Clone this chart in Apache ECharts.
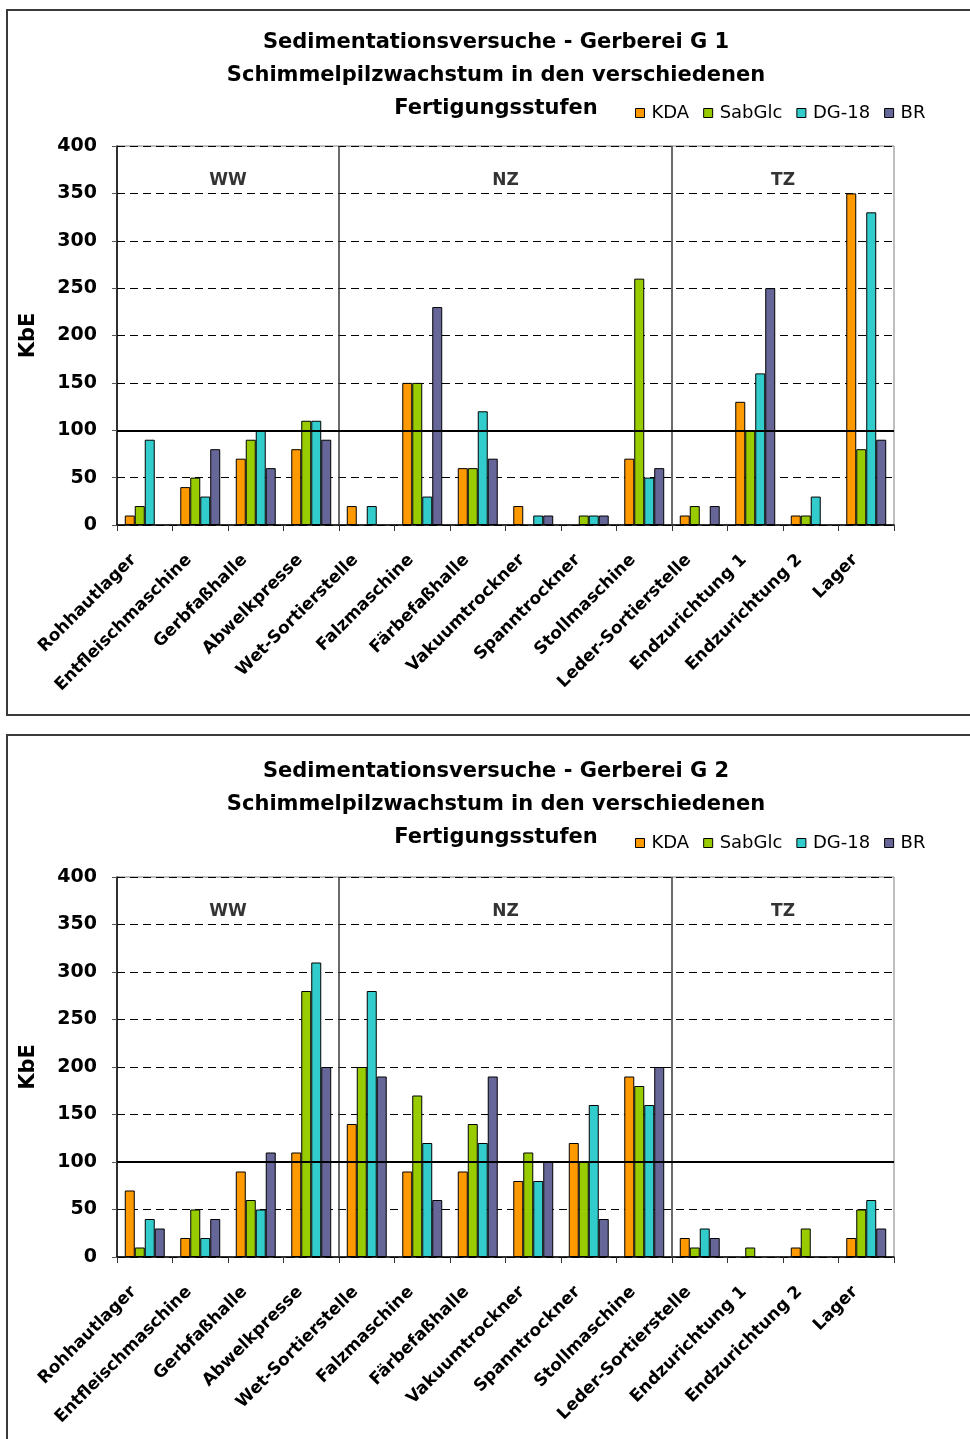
<!DOCTYPE html>
<html>
<head>
<meta charset="utf-8">
<script src="https://cdn.jsdelivr.net/npm/echarts@6/dist/echarts.min.js"></script>
<style>
  html, body { margin: 0; padding: 0; background: #fff; }
  #chart { width: 970px; height: 1439px; }
</style>
</head>
<body>
<div id="chart"></div>
<script>
// Production stages (x categories), shared by both tanneries
const categories = [
  'Rohhautlager', 'Entfleischmaschine', 'Gerbfaßhalle', 'Abwelkpresse',
  'Wet-Sortierstelle', 'Falzmaschine', 'Färbefaßhalle', 'Vakuumtrockner',
  'Spanntrockner', 'Stollmaschine', 'Leder-Sortierstelle', 'Endzurichtung 1',
  'Endzurichtung 2', 'Lager'
];

// Culture media
const seriesNames = ['KDA', 'SabGlc', 'DG-18', 'BR'];

// Gerberei G 1 – KbE per medium
const g1KDA    = [10, 40, 70, 80, 20, 150, 60, 20, 0, 70, 10, 130, 10, 350];
const g1SabGlc = [20, 50, 90, 110, 0, 150, 60, 0, 10, 260, 20, 100, 10, 80];
const g1DG18   = [90, 30, 100, 110, 20, 30, 120, 10, 10, 50, 0, 160, 30, 330];
const g1BR     = [0, 80, 60, 90, 0, 230, 70, 10, 10, 60, 20, 250, 0, 90];

// Gerberei G 2 – KbE per medium
const g2KDA    = [70, 20, 90, 110, 140, 90, 90, 80, 120, 190, 20, 0, 10, 20];
const g2SabGlc = [10, 50, 60, 280, 200, 170, 140, 110, 100, 180, 10, 10, 30, 50];
const g2DG18   = [40, 20, 50, 310, 280, 120, 120, 80, 160, 160, 30, 0, 0, 60];
const g2BR     = [30, 40, 110, 200, 190, 60, 190, 100, 40, 200, 20, 0, 0, 30];

// Value axis
const yMin = 0;
const yMax = 400;
const yStep = 50;
const thresholdValue = 100;

// Stage groups: labels, centre positions and boundaries (in category units)
const groupLabels  = ['WW', 'NZ', 'TZ'];
const groupCenters = [2, 7, 12];
const groupBounds  = [4, 10];
const groupLabelLevel = 364;

const titles = [
  ['Sedimentationsversuche - Gerberei G 1', 'Schimmelpilzwachstum in den verschiedenen', 'Fertigungsstufen'],
  ['Sedimentationsversuche - Gerberei G 2', 'Schimmelpilzwachstum in den verschiedenen', 'Fertigungsstufen']
];

const panelData = [
  [g1KDA, g1SabGlc, g1DG18, g1BR],
  [g2KDA, g2SabGlc, g2DG18, g2BR]
];

const colors = ['#FF9900', '#99CC00', '#33CCCC', '#666699'];
const FONT = "'DejaVu Sans', sans-serif";

// Layout of the two panels
const panels = [
  { boxTop: 10,  boxHeight: 705, titleTop: 26,  legendTop: 99,  gridTop: 146, gridHeight: 379 },
  { boxTop: 735, boxHeight: 720, titleTop: 755, legendTop: 829, gridTop: 877, gridHeight: 380 }
];

const option = {
  animation: false,
  backgroundColor: '#fff',
  textStyle: { fontFamily: FONT },
  grid: [], xAxis: [], yAxis: [], series: [], legend: [], graphic: []
};

panels.forEach((p, i) => {
  // Frame and title
  option.graphic.push({
    type: 'rect', silent: true, z: -1,
    shape: { x: 7, y: p.boxTop, width: 990, height: p.boxHeight },
    style: { fill: '#fff', stroke: '#3a3a3a', lineWidth: 2 }
  });
  option.graphic.push({
    type: 'text', silent: true,
    x: 496, y: p.titleTop,
    style: {
      text: titles[i].join('\n'),
      font: 'bold 21px ' + FONT,
      lineHeight: 33,
      fill: '#000',
      textAlign: 'center',
      textVerticalAlign: 'top'
    }
  });

  option.grid.push({
    left: 117, width: 777, top: p.gridTop, height: p.gridHeight,
    show: true, borderColor: '#7f7f7f', borderWidth: 1, backgroundColor: 'transparent'
  });

  option.legend.push({
    data: seriesNames,
    left: 630, top: p.legendTop,
    icon: 'rect', itemWidth: 9, itemHeight: 9, itemGap: 14,
    textStyle: { fontFamily: FONT, fontSize: 18, color: '#000', padding: [0, 0, 0, 2] },
    itemStyle: { borderColor: '#000', borderWidth: 1 }
  });

  // Category axis for the bars
  option.xAxis.push({
    type: 'category', gridIndex: i, data: categories, boundaryGap: true,
    axisLine: { lineStyle: { color: '#000', width: 1.5 } },
    axisTick: { show: true, length: 6, lineStyle: { color: '#333' } },
    axisLabel: {
      interval: 0, rotate: 45, margin: 21, padding: [0, 16, 0, 0],
      fontFamily: FONT, fontWeight: 'bold', fontSize: 17, color: '#000'
    },
    splitLine: { show: false }
  });
  // Continuous companion axis for group labels and separators
  option.xAxis.push({
    type: 'value', gridIndex: i, min: 0, max: categories.length, show: false
  });

  option.yAxis.push({
    type: 'value', gridIndex: i, min: yMin, max: yMax, interval: yStep,
    name: 'KbE', nameLocation: 'middle', nameRotate: 90, nameGap: 78,
    nameTextStyle: { fontFamily: FONT, fontWeight: 'bold', fontSize: 21, color: '#000' },
    axisLine: { show: true, lineStyle: { color: '#000', width: 1.5 } },
    axisTick: { show: true, length: 5, lineStyle: { color: '#555' } },
    axisLabel: { margin: 20, fontFamily: FONT, fontWeight: 'bold', fontSize: 19, color: '#000' },
    splitLine: { show: true, lineStyle: { color: '#000', width: 1, type: [8, 5] } }
  });

  panelData[i].forEach((values, s) => {
    option.series.push({
      name: seriesNames[s], type: 'bar',
      xAxisIndex: 2 * i, yAxisIndex: i,
      data: values.map(v => (v === 0 ? '-' : v)),
      barGap: '0%', barCategoryGap: '28%',
      itemStyle: { color: colors[s], borderColor: '#000', borderWidth: 1 }
    });
  });

  // Group labels, group separators and the 100 KbE reference line
  option.series.push({
    type: 'scatter', xAxisIndex: 2 * i + 1, yAxisIndex: i,
    symbolSize: 0, silent: true, z: 5,
    data: groupLabels.map((g, k) => ({ value: [groupCenters[k], groupLabelLevel], name: g })),
    label: {
      show: true, position: 'inside', formatter: '{b}',
      fontFamily: FONT, fontWeight: 'bold', fontSize: 17, color: '#000'
    },
    markLine: {
      silent: true, symbol: 'none', label: { show: false },
      data: [
        ...groupBounds.map(b => ({ xAxis: b, lineStyle: { color: '#3a3a3a', width: 1.5, type: 'solid' } })),
        { yAxis: thresholdValue, lineStyle: { color: '#000', width: 2, type: 'solid' } }
      ]
    }
  });
});

const chart = echarts.init(document.getElementById('chart'), null, { renderer: 'canvas' });
chart.setOption(option);
</script>
</body>
</html>
